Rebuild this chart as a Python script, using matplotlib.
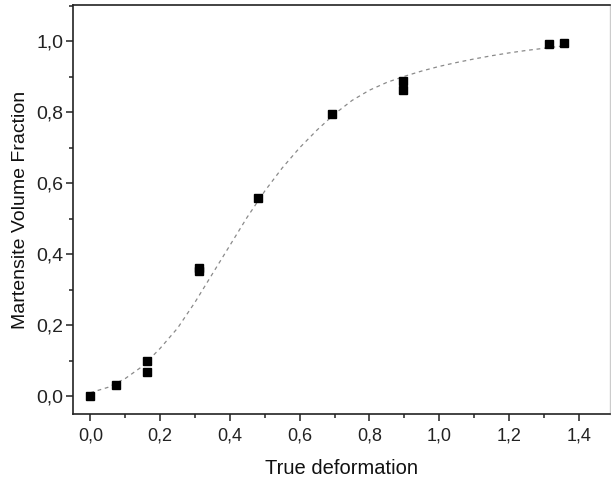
import numpy as np
import matplotlib
matplotlib.use('Agg')
import matplotlib.pyplot as plt
from matplotlib.ticker import MultipleLocator, FuncFormatter

plt.rcParams['font.family'] = ['Liberation Sans', 'DejaVu Sans']

# measured points
strain = [0.0, 0.073, 0.163, 0.163, 0.311, 0.311, 0.481, 0.692, 0.897, 0.897, 1.315, 1.359]
frac = [0.0, 0.033, 0.099, 0.068, 0.352, 0.360, 0.559, 0.794, 0.889, 0.863, 0.991, 0.996]

# fitted curve
fit_x = [0.0, 0.05, 0.10, 0.15, 0.20, 0.25, 0.30, 0.35, 0.40, 0.45, 0.50, 0.55, 0.60, 0.65,
         0.70, 0.75, 0.80, 0.85, 0.90, 0.95, 1.00, 1.05, 1.10, 1.15, 1.20, 1.25, 1.30, 1.35]
fit_y = [0.010, 0.025, 0.050, 0.085, 0.135, 0.192, 0.265, 0.345, 0.425, 0.505, 0.578, 0.643,
         0.700, 0.750, 0.795, 0.833, 0.862, 0.884, 0.901, 0.916, 0.929, 0.940, 0.950, 0.959,
         0.967, 0.974, 0.980, 0.986]

fig = plt.figure(figsize=(6.11, 4.79), dpi=100)
ax = fig.add_axes([73/611, 65/479, 537/611, 409/479])

ax.plot(fit_x, fit_y, color='#8a8a8a', lw=0.9, ls=(0, (3, 3)))
ax.plot(strain, frac, 's', color='black', ms=5.2, mec='black')

ax.set_xlim(-0.05, 1.49)
ax.set_ylim(-0.05, 1.102)

comma = FuncFormatter(lambda v, p: ('%.1f' % v).replace('.', ','))
ax.xaxis.set_major_locator(MultipleLocator(0.2))
ax.xaxis.set_minor_locator(MultipleLocator(0.1))
ax.yaxis.set_major_locator(MultipleLocator(0.2))
ax.yaxis.set_minor_locator(MultipleLocator(0.1))
ax.xaxis.set_major_formatter(comma)
ax.yaxis.set_major_formatter(comma)

ax.tick_params(axis='x', which='major', direction='out', length=5, width=1.1, pad=5,
               labelsize=13, colors='#222222', labelcolor='#222222')
ax.tick_params(axis='x', which='minor', direction='out', length=3, width=1.1, colors='#222222')
ax.tick_params(axis='y', which='major', direction='out', length=5, width=1.1, pad=2,
               labelsize=14, colors='#222222', labelcolor='#222222')
ax.tick_params(axis='y', which='minor', direction='out', length=3, width=1.1, colors='#222222')
ax.tick_params(top=False, right=False, which='both')

for s in ['left', 'bottom', 'top']:
    ax.spines[s].set_linewidth(1.2)
    ax.spines[s].set_color('#222222')
ax.spines['right'].set_color('#cccccc')
ax.spines['right'].set_linewidth(1.0)

ax.set_xlabel('True deformation', fontsize=14.5, color='#111111', labelpad=10)
ax.set_ylabel('Martensite Volume Fraction', fontsize=14, color='#111111', labelpad=5)

fig.savefig('out.png', dpi=100)
